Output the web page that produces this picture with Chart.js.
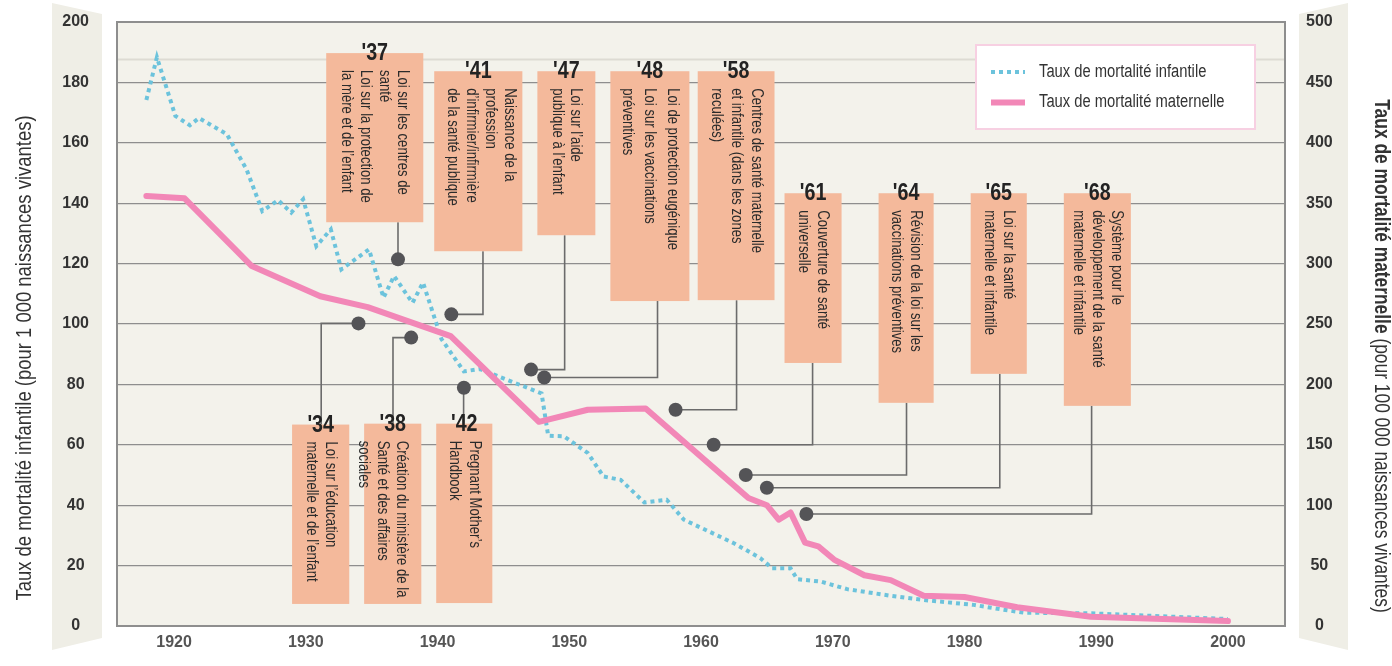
<!DOCTYPE html>
<html>
<head>
<meta charset="utf-8">
<script src="https://cdn.jsdelivr.net/npm/chart.js@4.4.1/dist/chart.umd.min.js"></script>
<style>
html, body { margin: 0; background: #fff; }
</style>
</head>
<body>
<canvas id="chart" width="1392" height="666"></canvas>
<script>
// infant mortality (per 1 000 births)
const infantYears = [1917.9, 1918.7, 1920.1, 1921.2, 1921.9, 1924.0, 1925.5, 1926.7, 1927.9, 1928.9,
	1929.8, 1930.8, 1931.9, 1932.7, 1934.8, 1935.9, 1936.7, 1938.1, 1938.9, 1940.3,
	1942.0, 1943.2, 1947.9, 1948.4, 1949.6, 1951.4, 1952.6, 1953.9, 1955.7, 1957.4,
	1958.7, 1962.5, 1964.5, 1965.4, 1966.8, 1967.3, 1969.1, 1971.1, 1974.4, 1976.9,
	1980.7, 1982.8, 1984.5, 1989.6, 2000];
const infantRates = [174.2, 188.3, 168.9, 165.8, 168.2, 162.9, 151.2, 137.4, 141.0, 136.9,
	141.3, 125.8, 131.3, 118.1, 124.7, 108.7, 115.9, 107.0, 113.7, 95.0,
	84.3, 85.1, 77.0, 63.0, 62.8, 57.3, 49.5, 48.4, 40.9, 41.8,
	35.2, 27.4, 22.5, 19.1, 19.1, 15.5, 14.7, 12.2, 10.0, 8.6,
	7.0, 5.5, 4.4, 4.2, 2.3];

// maternal mortality (per 100 000 births)
const maternalYears = [1917.9, 1920.8, 1925.9, 1931.1, 1934.7, 1941.0, 1947.7, 1951.4, 1955.8, 1963.6,
	1965.0, 1965.9, 1966.8, 1967.9, 1968.9, 1970.1, 1972.4, 1974.4, 1976.9, 1980.0,
	1984.0, 1989.6, 2000];
const maternalRates = [356, 354, 298, 273, 264, 240, 169, 179, 180, 106,
	100, 88, 94, 69, 66, 55, 42, 38, 25, 24,
	15.5, 7.7, 4.1];

const yearTicks = [1920, 1930, 1940, 1950, 1960, 1970, 1980, 1990, 2000];

// events: label, text lines, where the dot sits (year, left axis level)
const eventLabels = ["'34", "'37", "'38", "'41", "'42", "'47", "'48", "'58", "'61", "'64", "'65", "'68"];
const eventTexts = [
	["Loi sur l’éducation", "maternelle et de l’enfant"],
	["Loi sur les centres de", "santé", "Loi sur la protection de", "la mère et de l’enfant"],
	["Création du ministère de la", "Santé et des affaires", "sociales"],
	["Naissance de la", "profession", "d’infirmier/infirmière", "de la santé publique"],
	["Pregnant Mother’s", "Handbook"],
	["Loi sur l’aide", "publique à l’enfant"],
	["Loi de protection eugénique", "Loi sur les vaccinations", "préventives"],
	["Centres de santé maternelle", "et infantile (dans les zones", "reculées)"],
	["Couverture de santé", "universelle"],
	["Révision de la loi sur les", "vaccinations préventives"],
	["Loi sur la santé", "maternelle et infantile"],
	["Système pour le", "développement de la santé", "maternelle et infantile"]
];
const eventYears = [1934.0, 1937.0, 1938.0, 1941.05, 1942.0, 1947.1, 1948.1, 1958.07, 1960.96, 1963.4, 1965.0, 1968.0];
const eventLevels = [100.2, 121.4, 95.5, 103.2, 78.9, 84.9, 82.3, 71.6, 60, 50, 45.8, 37.1];

// box layout: [left year, right year, top level, bottom level, connector year, line gap, text shift px]
const boxLayout = [
	[1928.96, 1933.30, 66.7, 7.3, 1931.17, 18.5, 0],
	[1931.55, 1938.92, 189.7, 133.7, 1937.0, 18.7, 0],
	[1934.43, 1938.77, 67.0, 7.3, 1936.62, 19, -10],
	[1939.75, 1946.44, 183.7, 124.1, 1943.45, 19, 3],
	[1939.90, 1944.16, 67.0, 7.6, 1941.98, 20, 0],
	[1947.58, 1951.98, 183.7, 129.4, 1949.65, 18, 0],
	[1953.12, 1959.12, 183.7, 107.6, 1956.70, 22.5, 0],
	[1959.75, 1965.58, 183.7, 107.9, 1962.70, 20, 0],
	[1966.34, 1970.67, 143.3, 87.1, 1968.47, 18.5, 0],
	[1973.48, 1977.66, 143.3, 73.9, 1975.60, 18.5, 0],
	[1980.47, 1984.73, 143.3, 83.5, 1982.68, 18.5, 0],
	[1987.54, 1992.63, 143.3, 72.9, 1989.65, 19, 0]
];

const NARROW = 0.82;
function narrowText(ctx, str, x, y, font, angle, align) {
	ctx.save();
	ctx.translate(x, y);
	ctx.rotate(angle);
	ctx.scale(NARROW, 1);
	ctx.font = font;
	ctx.textAlign = align;
	ctx.fillText(str, 0, 0);
	ctx.restore();
}

function noPad(s) {
	s.paddingTop = 0;
	s.paddingBottom = 0;
	s.paddingLeft = 0;
	s.paddingRight = 0;
}

const backdrop = {
	id: 'backdrop',
	beforeDraw(chart) {
		const ctx = chart.ctx, a = chart.chartArea;
		ctx.save();
		ctx.fillStyle = '#fff';
		ctx.fillRect(0, 0, chart.width, chart.height);
		ctx.fillStyle = '#efeee6';
		[[[52, 3], [102, 14], [102, 638], [52, 650]], [[1299, 14], [1348, 3], [1348, 650], [1299, 638]]].forEach(p => {
			ctx.beginPath();
			p.forEach((q, i) => i ? ctx.lineTo(q[0], q[1]) : ctx.moveTo(q[0], q[1]));
			ctx.closePath();
			ctx.fill();
		});
		ctx.fillStyle = '#f3f2eb';
		ctx.fillRect(a.left, a.top, a.right - a.left, a.bottom - a.top);
		const fy = chart.scales.y.getPixelForValue(187.6);
		ctx.strokeStyle = '#dddbd3';
		ctx.lineWidth = 2;
		ctx.beginPath();
		ctx.moveTo(a.left, fy);
		ctx.lineTo(a.right, fy);
		ctx.stroke();
		ctx.restore();
	},
	beforeDatasetsDraw(chart) {
		const ctx = chart.ctx, a = chart.chartArea;
		ctx.save();
		ctx.strokeStyle = '#8e8e8e';
		ctx.lineWidth = 2;
		ctx.strokeRect(a.left, a.top, a.right - a.left, a.bottom - a.top);
		ctx.restore();
	}
};

const notes = {
	id: 'notes',
	afterDatasetsDraw(chart) {
		const ctx = chart.ctx, x = chart.scales.x, y = chart.scales.y;
		ctx.save();
		eventLabels.forEach((lab, i) => {
			const b = boxLayout[i];
			const L = x.getPixelForValue(b[0]), R = x.getPixelForValue(b[1]);
			const T = y.getPixelForValue(b[2]), B = y.getPixelForValue(b[3]);
			const cx = x.getPixelForValue(b[4]);
			const dx = x.getPixelForValue(eventYears[i]), dy = y.getPixelForValue(eventLevels[i]);
			const above = B < dy;
			ctx.strokeStyle = '#6b6b6b';
			ctx.lineWidth = 1.6;
			ctx.beginPath();
			ctx.moveTo(cx, above ? B : T);
			ctx.lineTo(cx, dy);
			ctx.lineTo(dx, dy);
			ctx.stroke();
			ctx.fillStyle = '#545457';
			ctx.beginPath();
			ctx.arc(dx, dy, 7, 0, Math.PI * 2);
			ctx.fill();
			ctx.fillStyle = '#f4b99b';
			ctx.fillRect(L, T, R - L, B - T);
			const mid = (L + R) / 2;
			ctx.fillStyle = '#232323';
			ctx.textBaseline = 'alphabetic';
			narrowText(ctx, lab, mid, T + 7, 'bold 24px "Liberation Sans", Arial, sans-serif', 0, 'center');
			const lines = eventTexts[i];
			ctx.fillStyle = '#2b2b2b';
			ctx.textBaseline = 'middle';
			lines.forEach((s, k) => {
				const lx = mid + b[6] + ((lines.length - 1) / 2 - k) * b[5];
				narrowText(ctx, s, lx, T + 17, '16px "Liberation Sans", Arial, sans-serif', Math.PI / 2, 'left');
			});
		});
		ctx.restore();
	}
};

const legendBox = {
	id: 'legendBox',
	afterDraw(chart) {
		const ctx = chart.ctx;
		ctx.save();
		ctx.fillStyle = '#fff';
		ctx.fillRect(976, 45, 279, 84);
		ctx.strokeStyle = '#f7d0e2';
		ctx.lineWidth = 2;
		ctx.strokeRect(976, 45, 279, 84);
		chart.data.datasets.forEach((ds, i) => {
			const ly = 72 + i * 30.5;
			ctx.strokeStyle = ds.borderColor;
			ctx.lineWidth = ds.borderWidth;
			ctx.setLineDash(ds.borderDash || []);
			ctx.beginPath();
			ctx.moveTo(991, ly);
			ctx.lineTo(1025, ly);
			ctx.stroke();
			ctx.setLineDash([]);
			ctx.fillStyle = '#333';
			ctx.textBaseline = 'middle';
			narrowText(ctx, ds.label, 1039, ly, '18px "Liberation Sans", Arial, sans-serif', 0, 'left');
		});

		// axis titles
		ctx.fillStyle = '#333';
		ctx.textBaseline = 'middle';
		narrowText(ctx, 'Taux de mortalité infantile (pour 1 000 naissances vivantes)', 25, 358,
			'22.5px "Liberation Sans", Arial, sans-serif', -Math.PI / 2, 'center');
		const boldPart = 'Taux de mortalité maternelle', restPart = ' (pour 100 000 naissances vivantes)';
		const fb = 'bold 21.2px "Liberation Sans", Arial, sans-serif', fr = '21.2px "Liberation Sans", Arial, sans-serif';
		ctx.save();
		ctx.translate(1381, 356);
		ctx.rotate(Math.PI / 2);
		ctx.scale(NARROW, 1);
		ctx.font = fb;
		const wb = ctx.measureText(boldPart).width;
		ctx.font = fr;
		const wr = ctx.measureText(restPart).width;
		ctx.textAlign = 'left';
		ctx.font = fb;
		ctx.fillText(boldPart, -(wb + wr) / 2, 0);
		ctx.font = fr;
		ctx.fillText(restPart, -(wb + wr) / 2 + wb, 0);
		ctx.restore();
		ctx.restore();
	}
};

const tickFont = { family: '"Liberation Sans", Arial, sans-serif', size: 16, weight: 'bold' };

new Chart(document.getElementById('chart'), {
	type: 'line',
	data: {
		datasets: [{
			label: 'Taux de mortalité infantile',
			data: infantYears.map((yr, i) => ({ x: yr, y: infantRates[i] })),
			yAxisID: 'y',
			borderColor: '#6cc3dc',
			borderWidth: 4,
			borderDash: [4, 4],
			pointRadius: 0,
			tension: 0,
			order: 1
		}, {
			label: 'Taux de mortalité maternelle',
			data: maternalYears.map((yr, i) => ({ x: yr, y: maternalRates[i] })),
			yAxisID: 'y1',
			borderColor: '#f287b7',
			borderWidth: 6,
			borderJoinStyle: 'round',
			borderCapStyle: 'round',
			pointRadius: 0,
			tension: 0,
			order: 0
		}]
	},
	options: {
		responsive: false,
		animation: false,
		layout: { padding: { top: 22, left: 0, right: 0, bottom: 0 } },
		plugins: { legend: { display: false }, tooltip: { enabled: false } },
		scales: {
			x: {
				type: 'linear',
				min: 1915.67,
				max: 2004.33,
				grid: { display: false, drawTicks: false },
				border: { display: false },
				afterBuildTicks: s => { s.ticks = yearTicks.map(v => ({ value: v })); },
				afterFit: s => { s.height = 40; noPad(s); },
				ticks: { padding: 7, color: '#555', font: tickFont, maxRotation: 0, autoSkip: false, callback: v => String(v) }
			},
			y: {
				position: 'left',
				min: 0,
				max: 200,
				grid: { color: '#8e8e8e', lineWidth: 1.3, drawTicks: false },
				border: { display: false },
				afterFit: s => { s.width = 117; noPad(s); },
				ticks: { stepSize: 20, padding: 28, crossAlign: 'center', color: '#333', font: tickFont }
			},
			y1: {
				position: 'right',
				min: 0,
				max: 500,
				grid: { display: false, drawTicks: false },
				border: { display: false },
				afterFit: s => { s.width = 107; noPad(s); },
				ticks: { stepSize: 50, padding: 21, crossAlign: 'center', color: '#333', font: tickFont }
			}
		}
	},
	plugins: [backdrop, notes, legendBox]
});
</script>
</body>
</html>
